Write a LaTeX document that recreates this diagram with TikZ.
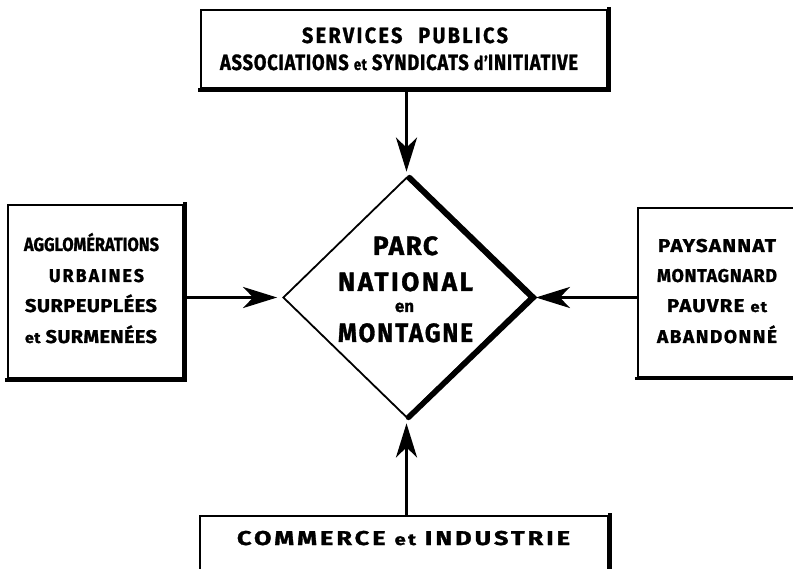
\documentclass[tikz,border=0pt]{standalone}
\usepackage{fontspec}
\usepackage{graphicx}
\setmainfont{Fira Sans}[BoldFeatures={FakeBold=1.2}]
\usetikzlibrary{arrows.meta,shapes.geometric}
\newcommand\fitw[2]{\resizebox{#1}{\height}{#2}}
\newcommand\lsp[1]{\addfontfeatures{LetterSpace=#1}}
\tikzset{
  frame/.style={draw, line width=1.7pt, inner sep=0pt},
  txt/.style={anchor=base, inner sep=0pt, font=\bfseries},
  arr/.style={line width=3.4pt, shorten >=5pt, -{Stealth[length=34pt,width=21pt,inset=10pt]}},
  shade/.style={line width=3.6pt, line cap=rect},
}
\begin{document}
\begin{tikzpicture}[x=1pt,y=-1pt]
\clip (0,0) rectangle (793,569);
\fill[white] (0,0) rectangle (793,569);
% ---------- top box
\node[frame, minimum width=406pt, minimum height=78pt] (top) at (404,49) {};
\draw[shade] ([xshift=1pt]top.north east) -- ([xshift=1pt,yshift=-1pt]top.south east) -- ([yshift=-1pt]top.south west);
\node[txt] (t1) at (405,43) {\fontsize{22}{24}\selectfont\lsp{12}\fitw{206pt}{SERVICES\hspace{0.8em}PUBLICS}};
\node[txt] (t2) at (399,70) {\fontsize{22}{24}\selectfont\lsp{4}\fitw{358pt}{ASSOCIATIONS {\fontsize{16}{18}\selectfont et} SYNDICATS {\fontsize{19}{18}\selectfont d’}INITIATIVE}};
% ---------- left box
\node[frame, minimum width=175pt, minimum height=173pt] (left) at (95.5,291.5) {};
\draw[shade] ([xshift=1pt]left.north east) -- ([xshift=1pt,yshift=-1pt]left.south east) -- ([yshift=-1pt]left.south west);
\node[txt] (l1) at (91.5,251) {\fontsize{19}{20}\selectfont\fitw{135pt}{AGGLOMÉRATIONS}};
\node[txt] (l2) at (96.5,282) {\fontsize{18.5}{20}\selectfont\lsp{12}\fitw{95pt}{URBAINES}};
\node[txt] (l3) at (91,312) {\fontsize{18.5}{20}\selectfont\lsp{2}\fitw{132pt}{SURPEUPLÉES}};
\node[txt] (l4) at (91,343) {\fontsize{18.5}{20}\selectfont\lsp{2}\fitw{132pt}{{\fontsize{15}{16}\selectfont et} SURMENÉES}};
% ---------- right box
\node[frame, minimum width=180pt, minimum height=169pt, anchor=north west] (right) at (637,207) {};
\draw[shade] ([yshift=-1pt]right.south east) -- ([yshift=-1pt]right.south west);
\node[txt] (r1) at (717,252) {\fontsize{18.5}{20}\selectfont\lsp{6}\fitw{118pt}{PAYSANNAT}};
\node[txt] (r2) at (717,282) {\fontsize{18.5}{20}\selectfont\lsp{4}\fitw{120pt}{MONTAGNARD}};
\node[txt] (r3) at (717,312) {\fontsize{18.5}{20}\selectfont\lsp{6}\fitw{100pt}{PAUVRE {\fontsize{15}{16}\selectfont et}}};
\node[txt] (r4) at (717,343) {\fontsize{18.5}{20}\selectfont\lsp{8}\fitw{120pt}{ABANDONNÉ}};
% ---------- bottom box
\node[frame, minimum width=408pt, minimum height=80pt, anchor=north] (bot) at (404,515) {};
\draw[shade] ([xshift=1pt]bot.north east) -- ([xshift=1pt,yshift=-1pt]bot.south east);
\node[txt] (b1) at (403.5,545) {\fontsize{20}{22}\selectfont\lsp{12}\fitw{333pt}{COMMERCE {\fontsize{16}{18}\selectfont et} INDUSTRIE}};
% ---------- diamond
\node[draw, diamond, aspect=1, line width=1.8pt, minimum width=247pt, minimum height=240pt, inner sep=0pt] (d) at (406.5,297.5) {};
\draw[line width=5.5pt, line cap=round] ([xshift=3pt,yshift=-1pt]d.north) -- ([xshift=2.5pt]d.east) -- ([xshift=2pt,yshift=1pt]d.south);
\node[txt] (d1) at (405.5,255) {\fontsize{26.5}{28}\selectfont\lsp{6}\fitw{65pt}{PARC}};
\node[txt] (d2) at (405.5,291) {\fontsize{26.5}{28}\selectfont\lsp{10}\fitw{135pt}{NATIONAL}};
\node[txt] (d3) at (404.5,312) {\fontsize{17}{20}\selectfont\fitw{19pt}{en}};
\node[txt] (d4) at (405.5,342) {\fontsize{26.5}{28}\selectfont\lsp{8}\fitw{135pt}{MONTAGNE}};
% ---------- arrows
\draw[arr] (top.south -| d.north) -- (d.north);
\draw[arr] (left.east |- d.west) -- (d.west);
\draw[arr] (right.west |- d.east) -- (d.east);
\draw[arr] (bot.north -| d.south) -- (d.south);
\end{tikzpicture}
\end{document}
